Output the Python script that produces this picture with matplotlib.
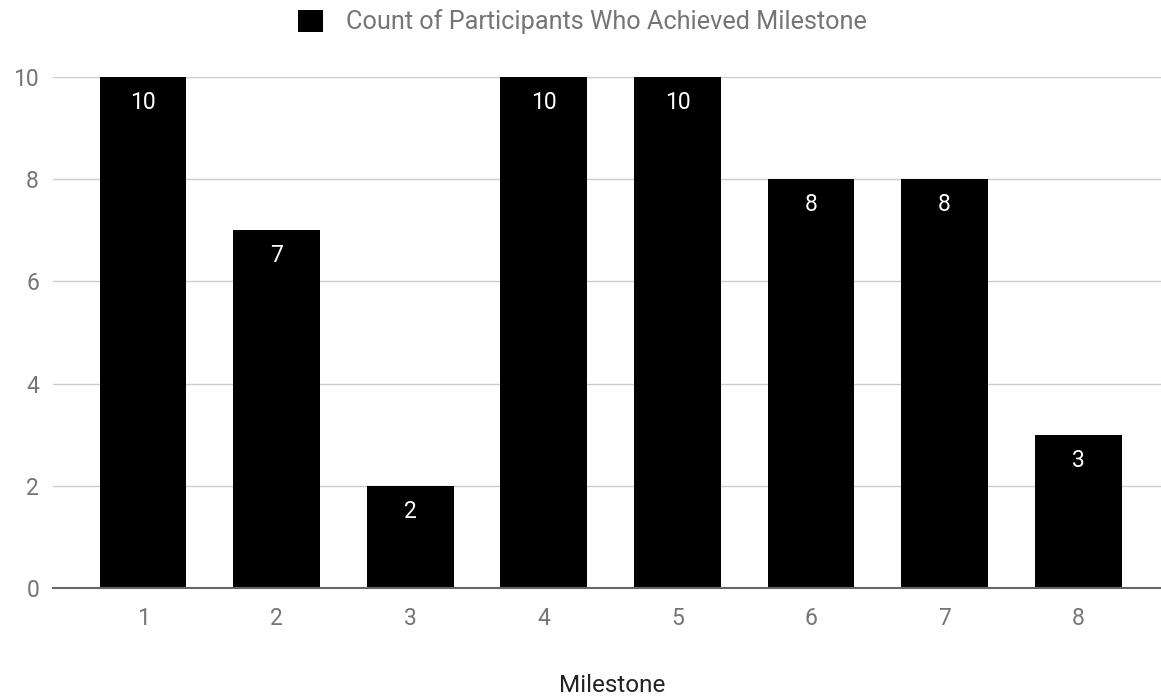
import matplotlib
matplotlib.use("Agg")
import matplotlib.pyplot as plt
from matplotlib.patches import Rectangle

milestones = ["1", "2", "3", "4", "5", "6", "7", "8"]
counts = [10, 7, 2, 10, 10, 8, 8, 3]
y_ticks = [0, 2, 4, 6, 8, 10]
series_name = "Count of Participants Who Achieved Milestone"
x_title = "Milestone"

plt.rcParams["font.family"] = ["Roboto", "DejaVu Sans"]
grey = "#757575"

fig = plt.figure(figsize=(11.61, 6.96), dpi=100)
ax = fig.add_axes([53 / 1161, 108 / 696, 1 - 53 / 1161, (588 - 77) / 696])

x = list(range(len(milestones)))
bars = ax.bar(x, counts, width=0.65, color="black", zorder=3)

for b, v in zip(bars, counts):
    ax.text(b.get_x() + b.get_width() / 2, v - 0.5, str(v), ha="center", va="center",
            color="white", fontsize=16.5, zorder=4)

ax.set_xlim(-0.674, 7.62)
ax.set_ylim(0, 10)
ax.set_yticks(y_ticks)
ax.set_xticks(x)
ax.set_xticklabels(milestones)
ax.tick_params(axis="both", length=0, colors=grey, labelsize=16.5)
ax.tick_params(axis="x", pad=14)
ax.tick_params(axis="y", pad=10)
ax.grid(axis="y", color="#cccccc", linewidth=1, zorder=0)
for s in ["top", "right", "left"]:
    ax.spines[s].set_visible(False)
ax.spines["bottom"].set_color("#666666")
ax.spines["bottom"].set_linewidth(1.5)
ax.spines["bottom"].set_zorder(5)

fig.text(612 / 1161, 1 - 686 / 696, x_title, ha="center", va="center",
         fontsize=17.5, color="#222222")

handle = Rectangle((0, 0), 1, 1, facecolor="black")
fig.legend([handle], [series_name], loc="center", bbox_to_anchor=(582 / 1161, 1 - 22 / 696),
           frameon=False, fontsize=18.2, labelcolor=grey, handlelength=1.0, handleheight=1.0,
           handletextpad=0.9)

fig.savefig("out.png", dpi=100)
